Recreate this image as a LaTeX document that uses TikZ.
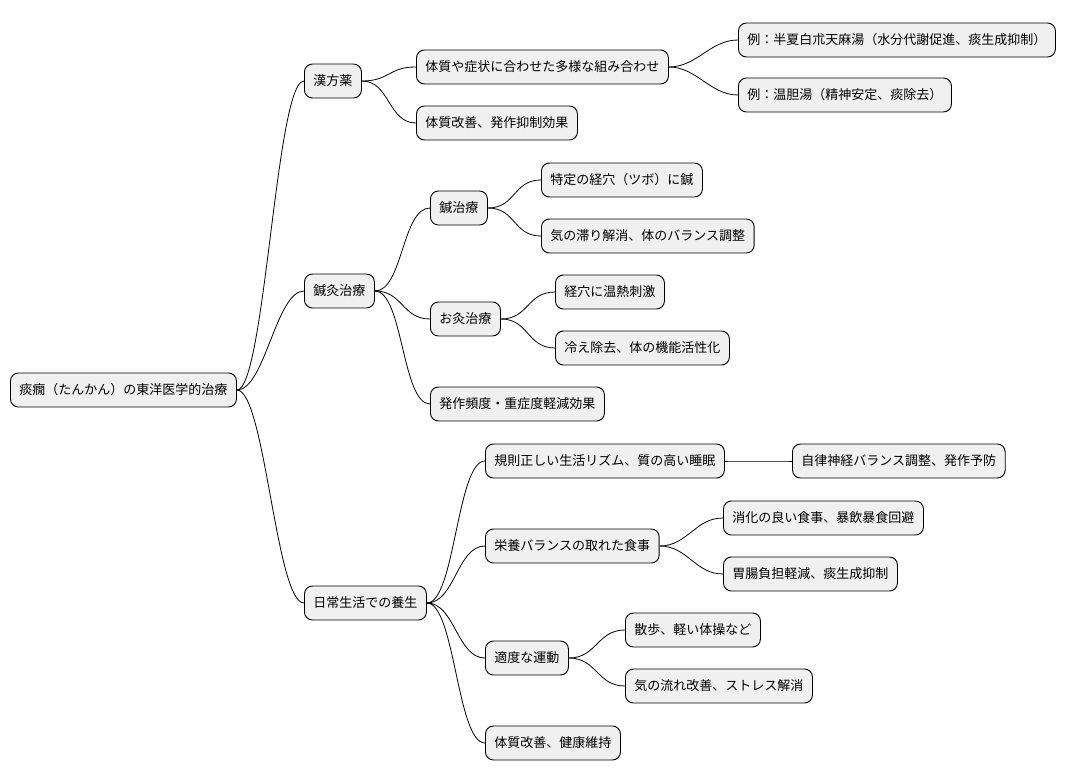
\documentclass[tikz,border=0pt]{standalone}
\usepackage{fontspec}
\setmainfont{Noto Sans CJK JP}
\tikzset{
  box/.style={draw=black, fill=black!6, rounded corners=8pt, line width=0.9pt,
    minimum height=34pt, inner xsep=9pt, anchor=west, font=\fontsize{13pt}{15pt}\selectfont},
  link/.style={line width=0.8pt}
}
\newcommand{\branch}[2]{\draw[link] (#1.east) .. controls +(28pt,0) and +(-28pt,0) .. (#2.west);}
\begin{document}
\begin{tikzpicture}[x=1pt,y=-1pt]
  \useasboundingbox (0,0) rectangle (1090,781);
  % root
  \node[box] (root) at (10,390) {痰癇（たんかん）の東洋医学的治療};
  % kampo
  \node[box] (kampo) at (304,81) {漢方薬};
  \node[box] (kumi) at (416,67) {体質や症状に合わせた多様な組み合わせ};
  \node[box] (hange) at (738,40) {例：半夏白朮天麻湯（水分代謝促進、痰生成抑制）};
  \node[box] (untan) at (738,95) {例：温胆湯（精神安定、痰除去）};
  \node[box] (kaizen) at (416,123) {体質改善、発作抑制効果};
  % shinkyu
  \node[box] (shinkyu) at (304,291) {鍼灸治療};
  \node[box] (hari) at (430,208) {鍼治療};
  \node[box] (tsubo) at (541,180) {特定の経穴（ツボ）に鍼};
  \node[box] (ki) at (541,236) {気の滞り解消、体のバランス調整};
  \node[box] (kyu) at (430,319) {お灸治療};
  \node[box] (onnetsu) at (555,292) {経穴に温熱刺激};
  \node[box] (hie) at (555,348) {冷え除去、体の機能活性化};
  \node[box] (keigen) at (430,404) {発作頻度・重症度軽減効果};
  % yojo
  \node[box] (yojo) at (304,603) {日常生活での養生};
  \node[box] (rhythm) at (485,461) {規則正しい生活リズム、質の高い睡眠};
  \node[box] (jiritsu) at (792,461) {自律神経バランス調整、発作予防};
  \node[box] (shoku) at (485,546) {栄養バランスの取れた食事};
  \node[box] (shoka) at (723,518) {消化の良い食事、暴飲暴食回避};
  \node[box] (ichou) at (723,574) {胃腸負担軽減、痰生成抑制};
  \node[box] (undo) at (485,658) {適度な運動};
  \node[box] (sanpo) at (625,630) {散歩、軽い体操など};
  \node[box] (nagare) at (625,686) {気の流れ改善、ストレス解消};
  \node[box] (iji) at (485,743) {体質改善、健康維持};
  % links
  \foreach \p/\c in {root/kampo, root/shinkyu, root/yojo,
      kampo/kumi, kampo/kaizen, kumi/hange, kumi/untan,
      shinkyu/hari, shinkyu/kyu, shinkyu/keigen,
      hari/tsubo, hari/ki, kyu/onnetsu, kyu/hie,
      yojo/rhythm, yojo/shoku, yojo/undo, yojo/iji,
      rhythm/jiritsu, shoku/shoka, shoku/ichou, undo/sanpo, undo/nagare}
    {\branch{\p}{\c}}
\end{tikzpicture}
\end{document}
